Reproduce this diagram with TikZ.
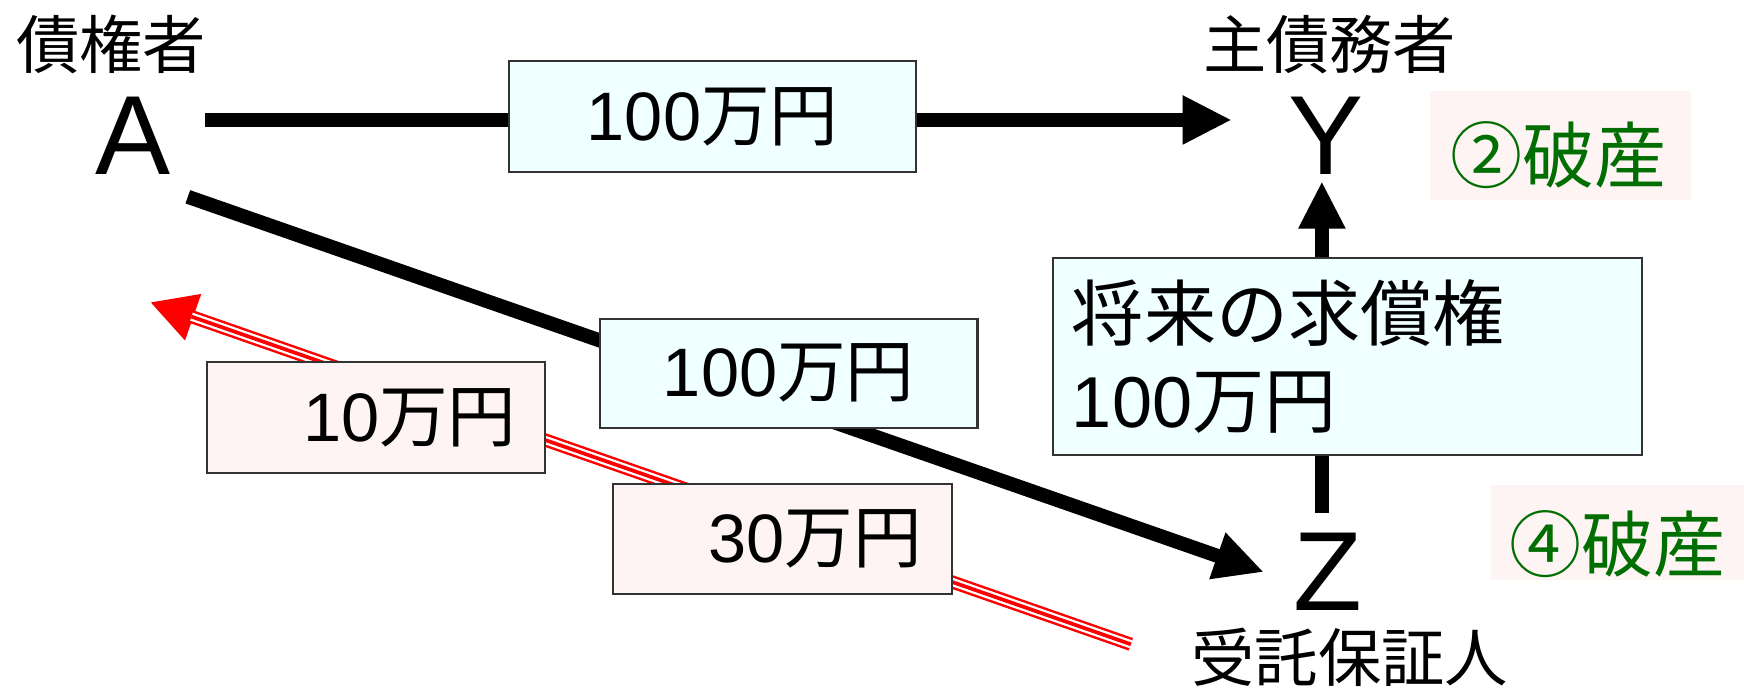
\documentclass[tikz,border=0pt]{standalone}
\usepackage{fontspec}
\setmainfont{Liberation Sans}
\newfontfamily\cjk{Noto Sans CJK JP}
\usetikzlibrary{arrows.meta}
\definecolor{boxcyan}{HTML}{F0FFFF}
\definecolor{boxpink}{HTML}{FFF4F4}
\definecolor{darkgreen}{HTML}{006E00}
\def\uu{0.0222cm}
\begin{document}
\begin{tikzpicture}[x=0.0222cm,y=-0.0222cm,
  lbl/.style={inner sep=0pt, font=\fontsize{36pt}{43pt}\selectfont\cjk},
  letter/.style={inner sep=0pt, font=\fontsize{64pt}{76pt}\selectfont},
  conn/.style={line width=8pt, -{Triangle[length=28pt,width=26pt]}},
  vconn/.style={line width=8pt, -{Triangle[length=27pt,width=25pt]}},
  box/.style={draw=black!80, line width=1.2pt, inner sep=0pt,
    font=\fontsize{39pt}{48pt}\selectfont},
  cyanbox/.style={box, fill=boxcyan},
  pinkbox/.style={box, fill=boxpink},
  note/.style={inner sep=0pt, text=darkgreen, font=\fontsize{41pt}{49pt}\selectfont\cjk},
  redline/.style={red, line width=7.5pt}
]
\useasboundingbox (0,0) rectangle (1570,620);

% labels and parties
\node[lbl] (cred) at (100,40) {債権者};
\node[letter] (A) at (120,122) {A};
\node[lbl] (debt) at (1197,40) {主債務者};
\node[letter] (Y) at (1194,122) {Y};
\node[letter] (Z) at (1195,515) {Z};
\node[lbl] (guar) at (1215,592) {受託保証人};

% connectors
\draw[conn] ([shift={(30,-14)}]A.east) -- ([shift={(-51,-14)}]Y.west);
\draw[conn] ([shift={(15,20)}]A.south east) -- ([shift={(-26,0)}]Z.west);
\draw[vconn] ([shift={(-5,-18)}]Z.north) -- ([shift={(-4,6)}]Y.south);

% red triple arrow
\coordinate (rtail) at (1018,580);
\coordinate (rtip) at (135,272);
\draw[redline, -{Triangle[length=26pt,width=26pt]}] (rtail) -- (rtip);
\draw[white, line width=4.7pt, shorten >=25pt] (rtail) -- (rtip);
\draw[red, line width=2.1pt, shorten >=25pt] (rtail) -- (rtip);

% boxes
\node[cyanbox, minimum width=367*\uu, minimum height=100*\uu] (b1) at (641.5,105) {100{\cjk 万円}};
\node[cyanbox, minimum width=340*\uu, minimum height=98*\uu] (b2) at (710,336) {100{\cjk 万円}};
\node[cyanbox, minimum height=178*\uu, text width=496*\uu, inner xsep=17*\uu, align=left,
  font=\fontsize{41pt}{49pt}\selectfont] (b3) at (1213,321)
  {{\cjk 将来の求償権}\\100{\cjk 万円}};
\node[pinkbox, minimum height=100*\uu, text width=253*\uu, inner xsep=26*\uu, align=right] (b4) at (338.5,376) {10{\cjk 万円}};
\node[pinkbox, minimum height=99*\uu, text width=251*\uu, inner xsep=27*\uu, align=right] (b5) at (704.5,485.5) {30{\cjk 万円}};

% bankruptcy notes
\fill[boxpink] (1287,82) rectangle (1522,180);
\node[note] (n2) at (1403,140) {②破産};
\fill[boxpink] (1342,437) rectangle (1570,522);
\node[note] (n4) at (1456,490) {④破産};
\end{tikzpicture}
\end{document}
